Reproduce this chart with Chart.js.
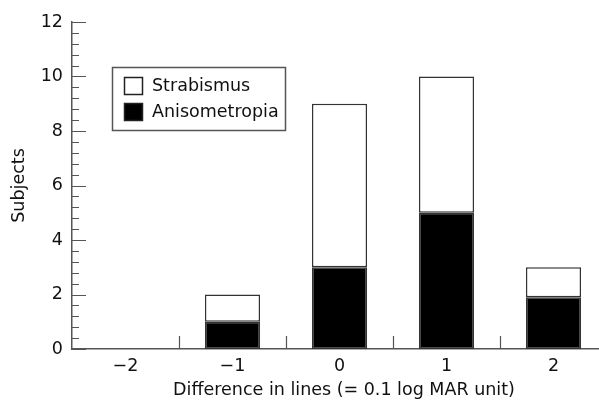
<!DOCTYPE html>
<html lang="en">
  <head>
    <meta charset="UTF-8" />
    <title>Subjects by difference in lines</title>
    <script src="https://cdn.jsdelivr.net/npm/chart.js@4"></script>
    <style>
      html, body { margin: 0; padding: 0; background: #fff; overflow: hidden; }
      #wrap { width: 599px; height: 403px; overflow: hidden; }
    </style>
  </head>
  <body>
    <div id="wrap"><canvas id="myChart" width="607" height="403"></canvas></div>

    <script>
      const categories = ["\u22122", "\u22121", "0", "1", "2"];
      const anisometropia = [0, 1, 3, 5, 1.9];
      const strabismus = [0, 1, 6, 5, 1.1];
      const xTitle = "Difference in lines (= 0.1 log MAR unit)";
      const yTitle = "Subjects";

      const FONT = "'DejaVu Sans', sans-serif";
      const SIZE = 17.5;
      const AXIS = "#555";

      // inward tick marks on both axes, plus the x title
      const innerTicks = {
        id: "innerTicks",
        afterDraw(chart) {
          const ctx = chart.ctx;
          const x = chart.scales.x, y = chart.scales.y;
          const area = chart.chartArea;
          ctx.save();
          ctx.strokeStyle = AXIS;
          ctx.lineWidth = 1.2;
          ctx.beginPath();
          for (let i = 0; i <= 30; i++) {
            const v = i * 0.4;
            const py = Math.round(y.getPixelForValue(v)) + 0.5;
            const len = i % 5 === 0 ? 14 : 7;
            ctx.moveTo(area.left, py);
            ctx.lineTo(area.left + len, py);
          }
          for (let i = 0; i < categories.length - 1; i++) {
            const px = Math.round((x.getPixelForValue(i) + x.getPixelForValue(i + 1)) / 2) + 0.5;
            ctx.moveTo(px, area.bottom);
            ctx.lineTo(px, area.bottom - 13);
          }
          ctx.stroke();

          ctx.fillStyle = "#111";
          ctx.font = SIZE + "px " + FONT;
          ctx.textAlign = "center";
          ctx.textBaseline = "alphabetic";
          ctx.fillText(xTitle, 344, 395);
          ctx.restore();
        },
      };

      // boxed legend inside the plot
      const boxLegend = {
        id: "boxLegend",
        afterDraw(chart) {
          const ctx = chart.ctx;
          ctx.save();
          ctx.strokeStyle = AXIS;
          ctx.lineWidth = 1.5;
          ctx.strokeRect(112.5, 67.5, 173, 63);
          const items = [chart.data.datasets[1], chart.data.datasets[0]];
          items.forEach((ds, i) => {
            const top = 77 + i * 26;
            ctx.fillStyle = ds.backgroundColor;
            ctx.fillRect(124, top, 19, 18);
            ctx.strokeStyle = "#222";
            ctx.lineWidth = 1.5;
            ctx.strokeRect(124.5, top + 0.5, 18, 17);
            ctx.fillStyle = "#111";
            ctx.font = SIZE + "px " + FONT;
            ctx.textBaseline = "middle";
            ctx.fillText(ds.label, 152, top + 9);
          });
          ctx.restore();
        },
      };

      new Chart(document.getElementById("myChart"), {
        type: "bar",
        data: {
          labels: categories,
          datasets: [
            {
              label: "Anisometropia",
              data: anisometropia,
              backgroundColor: "#000",
              borderColor: "#333",
              borderWidth: 1.5,
              borderSkipped: false,
            },
            {
              label: "Strabismus",
              data: strabismus,
              backgroundColor: "#fff",
              borderColor: "#333",
              borderWidth: 1.5,
              borderSkipped: false,
            },
          ],
        },
        options: {
          responsive: false,
          animation: false,
          layout: { padding: { top: 22, right: 0, left: 0, bottom: 0 } },
          datasets: { bar: { barPercentage: 1, categoryPercentage: 0.515 } },
          plugins: { legend: { display: false }, tooltip: { enabled: false } },
          scales: {
            x: {
              stacked: true,
              grid: { display: false, drawTicks: false },
              border: { display: true, color: AXIS, width: 1.5 },
              ticks: { color: "#111", font: { family: FONT, size: SIZE }, padding: 7 },
              afterFit(s) { s.height = 54; },
            },
            y: {
              stacked: true,
              min: 0,
              max: 12,
              grid: { display: false, drawTicks: false },
              border: { display: true, color: AXIS, width: 1.5 },
              ticks: { stepSize: 2, color: "#111", font: { family: FONT, size: SIZE }, padding: 9 },
              title: { display: true, text: yTitle, color: "#111", font: { family: FONT, size: SIZE }, padding: { top: 9, bottom: 0 } },
              afterFit(s) { s.width = 72; },
            },
          },
        },
        plugins: [innerTicks, boxLegend],
      });
    </script>
  </body>
</html>
